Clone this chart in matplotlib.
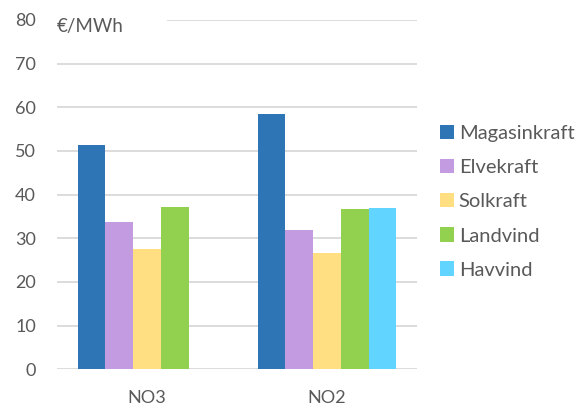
import numpy as np
import matplotlib.pyplot as plt

# data
regions = ['NO3', 'NO2']
series = ['Magasinkraft', 'Elvekraft', 'Solkraft', 'Landvind', 'Havvind']
magasinkraft = [51.3, 58.5]
elvekraft = [33.8, 31.9]
solkraft = [27.5, 26.6]
landvind = [37.2, 36.6]
havvind = [np.nan, 36.9]
yticks = [0, 10, 20, 30, 40, 50, 60, 70, 80]

colors = ['#2E75B6', '#C39BE0', '#FFDF81', '#92D050', '#61D5FF']
grey = '#595959'
plt.rcParams['font.family'] = ['Lato', 'DejaVu Sans']

fig = plt.figure(figsize=(5.81, 4.05), dpi=100)
ax = fig.add_axes([0.098, 0.088, 0.62, 0.863])

x = np.arange(len(regions))
w = 0.154
values = [magasinkraft, elvekraft, solkraft, landvind, havvind]
for i, (name, vals) in enumerate(zip(series, values)):
    ax.bar(x + (i - 2) * w, vals, w, color=colors[i], label=name, zorder=3)

# gridlines (top one leaves room for the unit label)
for t in yticks:
    if t == 80:
        ax.axhline(t, xmin=0.308, color='#D9D9D9', lw=1.3, zorder=1)
    else:
        ax.axhline(t, color='#D9D9D9', lw=1.3, zorder=1)

ax.set_xlim(-0.5, 1.5)
ax.set_ylim(0, 80)
ax.set_yticks(yticks)
ax.set_xticks(x)
ax.set_xticklabels(regions)
for s in ax.spines.values():
    s.set_visible(False)
ax.tick_params(length=0, labelsize=13, colors=grey)
ax.tick_params(axis='y', pad=15)
ax.tick_params(axis='x', pad=15)

ax.text(0.0, 78.5, '€/MWh', fontsize=13.5, color=grey, ha='left', va='center',
        transform=ax.get_yaxis_transform())

leg = ax.legend(loc='center left', bbox_to_anchor=(1.012, 0.479), frameon=False,
                fontsize=14.5, handlelength=0.7, handleheight=0.7,
                handletextpad=0.25, labelspacing=0.84)
for t in leg.get_texts():
    t.set_color(grey)

fig.savefig('out.png', dpi=100)
